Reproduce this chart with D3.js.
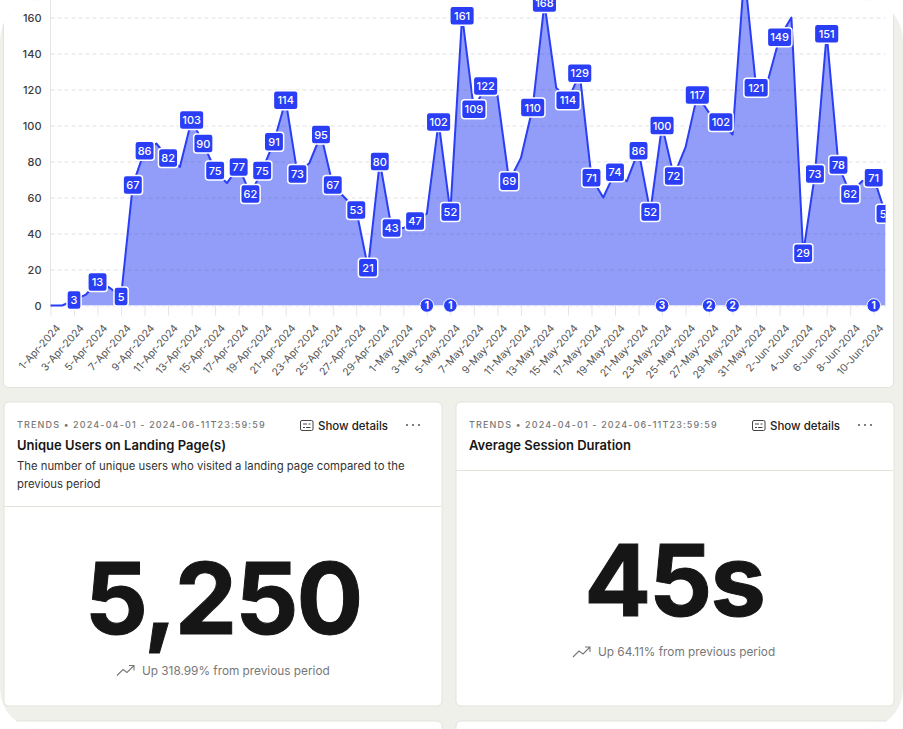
<!DOCTYPE html>
<html>
<head>
<meta charset="utf-8">
<script src="https://cdn.jsdelivr.net/npm/d3@7/dist/d3.min.js"></script>
<style>
html,body{margin:0;padding:0;background:#fff;}
svg{display:block;font-family:Inter,"Liberation Sans",sans-serif;}
</style>
</head>
<body>
<svg id="page" width="903" height="729"></svg>
<script>
var days = ["1-Apr-2024","2-Apr-2024","3-Apr-2024","4-Apr-2024","5-Apr-2024","6-Apr-2024","7-Apr-2024","8-Apr-2024","9-Apr-2024","10-Apr-2024",
  "11-Apr-2024","12-Apr-2024","13-Apr-2024","14-Apr-2024","15-Apr-2024","16-Apr-2024","17-Apr-2024","18-Apr-2024","19-Apr-2024","20-Apr-2024",
  "21-Apr-2024","22-Apr-2024","23-Apr-2024","24-Apr-2024","25-Apr-2024","26-Apr-2024","27-Apr-2024","28-Apr-2024","29-Apr-2024","30-Apr-2024",
  "1-May-2024","2-May-2024","3-May-2024","4-May-2024","5-May-2024","6-May-2024","7-May-2024","8-May-2024","9-May-2024","10-May-2024",
  "11-May-2024","12-May-2024","13-May-2024","14-May-2024","15-May-2024","16-May-2024","17-May-2024","18-May-2024","19-May-2024","20-May-2024",
  "21-May-2024","22-May-2024","23-May-2024","24-May-2024","25-May-2024","26-May-2024","27-May-2024","28-May-2024","29-May-2024","30-May-2024",
  "31-May-2024","1-Jun-2024","2-Jun-2024","3-Jun-2024","4-Jun-2024","5-Jun-2024","6-Jun-2024","7-Jun-2024","8-Jun-2024","9-Jun-2024",
  "10-Jun-2024","11-Jun-2024"];
var users = [0,0,3,6,13,10,5,67,86,90,
  82,77,103,90,75,68,77,62,75,91,
  114,73,79,95,67,60,53,21,80,43,
  43,47,51,102,52,161,109,122,117,69,
  82,110,168,121,114,129,71,60,74,69,
  86,52,100,72,88,117,107,102,95,185,
  121,125,149,160,29,73,151,78,62,69,
  71,51];
// points that carry no label on the chart
var unlabelled = ["1-Apr-2024","2-Apr-2024","4-Apr-2024","6-Apr-2024","10-Apr-2024","12-Apr-2024","16-Apr-2024","23-Apr-2024","26-Apr-2024","1-May-2024",
  "3-May-2024","9-May-2024","11-May-2024","14-May-2024","18-May-2024","20-May-2024","25-May-2024","27-May-2024","29-May-2024","30-May-2024",
  "1-Jun-2024","3-Jun-2024","9-Jun-2024"];
var annotationDays = ["3-May-2024","5-May-2024","23-May-2024","27-May-2024","29-May-2024","10-Jun-2024"];
var annotationCounts = [1,1,3,2,2,1];
var yTicks = [0,20,40,60,80,100,120,140,160];

var BLUE = "#2a3ef5";
var svg = d3.select("#page");

var defs = svg.append("defs");
defs.append("clipPath").attr("id","panel").append("rect")
  .attr("width",903).attr("height",729).attr("rx",40);
defs.append("clipPath").attr("id","plot").append("rect")
  .attr("x",50).attr("y",-60).attr("width",835.5).attr("height",400);

var root = svg.append("g").attr("clip-path","url(#panel)");
root.append("rect").attr("width",903).attr("height",729).attr("fill","#f0f0eb");

function card(x,y,w,h){
  root.append("rect").attr("x",x+.5).attr("y",y+.5).attr("width",w).attr("height",h).attr("rx",5)
    .attr("fill","#fff").attr("stroke","#e3e3dc");
}
card(3,-30,890,417);
card(3.5,401.5,438,304);
card(455.5,401.5,438,304);
card(3.5,720.5,438,80);
card(455.5,720.5,438,80);

// chart
var x = d3.scalePoint().domain(days).range([50.5,885.5]);
var y = d3.scaleLinear().domain([0,160]).range([305.5,17.5]);

var area = d3.area().x(function(d,i){return x(days[i])}).y0(y(0)).y1(function(d){return y(d)});
var line = d3.line().x(function(d,i){return x(days[i])}).y(function(d){return y(d)});

var chart = root.append("g");

chart.append("path").datum(users).attr("d",area).attr("fill","#919df8").attr("clip-path","url(#plot)");

var yAxis = chart.append("g").attr("transform","translate(50.5,0)")
  .call(d3.axisLeft(y).tickValues(yTicks).tickSize(0).tickPadding(9));
yAxis.select(".domain").remove();
yAxis.selectAll("text").attr("font-family","Inter").attr("font-size",11).attr("font-weight",500).attr("fill","#3d3d3d");
yAxis.selectAll(".tick").append("line").attr("x2",835).attr("stroke","#3c3c50").attr("stroke-opacity",.15).attr("stroke-dasharray","4,3");
chart.append("line").attr("x1",50.5).attr("x2",50.5).attr("y1",-5).attr("y2",305.5).attr("stroke","#e4e4e4");

var xAxis = chart.append("g").attr("transform","translate(0,305.5)")
  .call(d3.axisBottom(x).tickValues(days.filter(function(d,i){return i%2==0})).tickSize(10));
xAxis.select(".domain").attr("d","M50.5,0H885.5").attr("stroke","#dfe1fb");
xAxis.selectAll(".tick line").attr("stroke","#e4e4e4");
xAxis.selectAll("text")
  .attr("font-family","Inter").attr("font-size",10.4).attr("fill","#555")
  .attr("text-anchor","end").attr("dy",0).attr("y",0)
  .attr("transform","translate(10,23) rotate(-48)");

chart.append("path").datum(users).attr("d",line).attr("fill","none").attr("stroke",BLUE).attr("stroke-width",2)
  .attr("stroke-linejoin","round").attr("clip-path","url(#plot)");

// value labels
var labelled = days.map(function(d,i){return {day:d,value:users[i]}})
  .filter(function(d){return unlabelled.indexOf(d.day)<0});
var labels = chart.append("g").attr("clip-path","url(#plot)").selectAll("g").data(labelled).enter().append("g")
  .attr("transform",function(d){return "translate("+x(d.day)+","+y(d.value)+")"});
function boxWidth(d){ return 9+5.2*String(d.value).length; }
labels.append("rect")
  .attr("x",function(d){return -boxWidth(d)/2}).attr("y",-9.5)
  .attr("width",boxWidth).attr("height",19).attr("rx",3)
  .attr("fill",BLUE).attr("stroke","#fff").attr("stroke-width",1.5);
labels.append("text").text(function(d){return d.value})
  .attr("text-anchor","middle").attr("y",4).attr("font-size",11).attr("font-weight",500).attr("fill","#fff");

// annotation badges
var badges = chart.append("g").selectAll("g").data(annotationDays).enter().append("g")
  .attr("transform",function(d){return "translate("+x(d)+","+y(0)+")"});
badges.append("circle").attr("r",6.8).attr("fill",BLUE).attr("stroke","#fff").attr("stroke-width",1);
badges.append("text").text(function(d,i){return annotationCounts[i]})
  .attr("text-anchor","middle").attr("y",3.6).attr("font-size",10).attr("font-weight",700).attr("fill","#fff");

// metric cards
function metric(o){
  var g = root.append("g").attr("transform","translate("+o.x+",0)");
  g.append("text").text("TRENDS • 2024-04-01 - 2024-06-11T23:59:59").attr("x",17).attr("y",428)
    .attr("font-size",9).attr("font-weight",500).attr("letter-spacing",1.14).attr("fill","#777");
  // details icon
  g.append("rect").attr("x",300.5).attr("y",420.5).attr("width",12.5).attr("height",10).attr("rx",1.5)
    .attr("fill","none").attr("stroke","#444").attr("stroke-width",1);
  g.append("path").attr("d","M303,424h4M308.5,424h2M303,427.5h2M306,427.5h4.5").attr("stroke","#444").attr("stroke-width",1);
  g.append("text").text("Show details").attr("x",318).attr("y",430).attr("font-size",11.5).attr("font-weight",500).attr("fill","#222");
  g.selectAll("circle.dot").data([407,413,419]).enter().append("circle")
    .attr("cx",function(d){return d}).attr("cy",425).attr("r",1).attr("fill","#555");
  g.append("text").text(o.title).attr("x",17).attr("y",450).attr("font-size",13).attr("font-weight",600).attr("fill","#161616");
  o.desc.forEach(function(t,i){
    g.append("text").text(t).attr("x",17).attr("y",470+i*18).attr("font-size",11.3).attr("fill","#333");
  });
  g.append("line").attr("x1",4).attr("x2",441).attr("y1",o.rule+.5).attr("y2",o.rule+.5).attr("stroke","#e3e3dc");
  g.append("text").text(o.big).attr("x",o.cx).attr("y",o.bigY).attr("text-anchor","middle")
    .attr("font-size",99).attr("font-weight",700).attr("letter-spacing",-2)
    .attr("fill","#161616").attr("stroke","#161616").attr("stroke-width",1);
  // trend icon
  g.append("path").attr("d","M"+o.ix+","+(o.subY+1)+"l6,-6 4,3 7,-7m-5,0h5v5")
    .attr("fill","none").attr("stroke","#777").attr("stroke-width",1.1);
  g.append("text").text(o.sub).attr("x",o.ix+25).attr("y",o.subY).attr("font-size",11.8).attr("fill","#777");
}
metric({x:0,title:"Unique Users on Landing Page(s)",
  desc:["The number of unique users who visited a landing page compared to the","previous period"],
  rule:506,big:"5,250",cx:223,bigY:634,ix:117,subY:674.5,sub:"Up 318.99% from previous period"});
metric({x:452,title:"Average Session Duration",desc:[],
  rule:470,big:"45s",cx:222,bigY:616,ix:121,subY:656,sub:"Up 64.11% from previous period"});
</script>
</body>
</html>
